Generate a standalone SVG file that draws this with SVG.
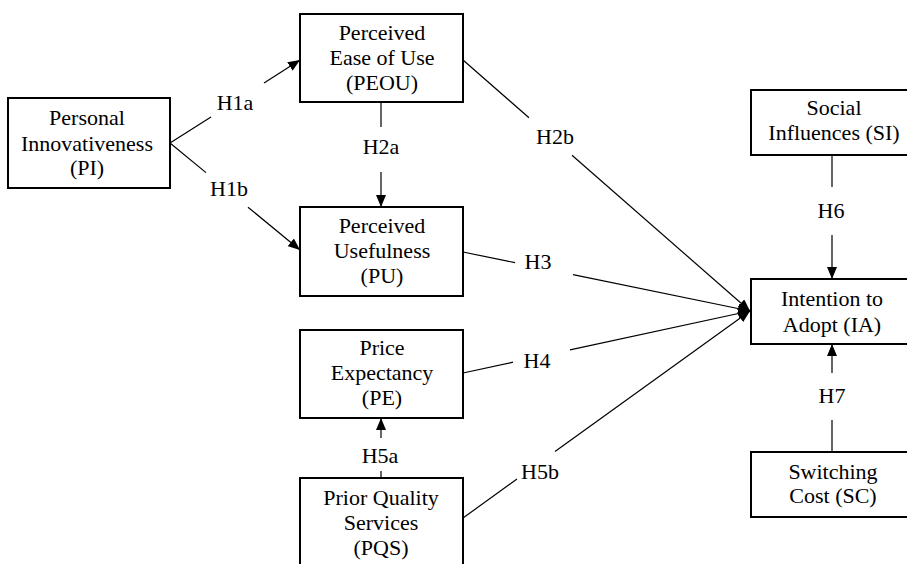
<svg xmlns="http://www.w3.org/2000/svg" width="907" height="564" viewBox="0 0 907 564">
<style>
.box{fill:#fff;stroke:#000;stroke-width:2}
text{font-size:22px;fill:#000;text-anchor:middle}
.con{fill:none;stroke:#000;stroke-width:1.2}
</style>
<defs>
<marker id="arr" viewBox="0 0 12 10" refX="12" refY="5" markerWidth="12" markerHeight="10" markerUnits="userSpaceOnUse" orient="auto"><path d="M0,0 L12,5 L0,10 z" fill="#000"/></marker>
</defs>
<rect width="907" height="564" fill="#fff"/>
<g font-family="'Liberation Serif', 'DejaVu Serif', 'Times New Roman', serif">
<g id="connectors">
<path class="con" d="M170,143 L211,117 M264,83 L300,60" marker-end="url(#arr)"/>
<path class="con" d="M170,143 L206,172.6 M248,207.2 L300,250" marker-end="url(#arr)"/>
<path class="con" d="M381,102 L381,127 M381,172 L381,207" marker-end="url(#arr)"/>
<path class="con" d="M463,60 L529,117.7 M572,155.3 L750,311" marker-end="url(#arr)"/>
<path class="con" d="M463,252 L515,262.7 M573,274.6 L750,311" marker-end="url(#arr)"/>
<path class="con" d="M463,373 L513,362.2 M570,349.9 L750,311" marker-end="url(#arr)"/>
<path class="con" d="M463,518 L517,479 M555,451.6 L750,311" marker-end="url(#arr)"/>
<path class="con" d="M381,478 L381,471 M381,438 L381,418" marker-end="url(#arr)"/>
<path class="con" d="M832,155 L832,187 M832,235 L832,279" marker-end="url(#arr)"/>
<path class="con" d="M832,452 L832,420 M832,373 L832,344" marker-end="url(#arr)"/>
<text x="235" y="110">H1a</text>
<text x="229" y="196">H1b</text>
<text x="381" y="154">H2a</text>
<text x="555" y="144">H2b</text>
<text x="538" y="269">H3</text>
<text x="537" y="368">H4</text>
<text x="380" y="463">H5a</text>
<text x="540" y="479">H5b</text>
<text x="831" y="218">H6</text>
<text x="832" y="403">H7</text>
</g>
<g id="PI">
<rect class="box" x="8" y="98" width="162" height="90"/>
<text x="87" y="125">Personal</text>
<text x="87" y="151">Innovativeness</text>
<text x="87" y="175">(PI)</text>
</g>
<g id="PEOU">
<rect class="box" x="300" y="14" width="163" height="88"/>
<text x="382" y="40">Perceived</text>
<text x="382" y="65">Ease of Use</text>
<text x="382" y="90">(PEOU)</text>
</g>
<g id="PU">
<rect class="box" x="300" y="207" width="163" height="89"/>
<text x="382" y="233">Perceived</text>
<text x="382" y="258">Usefulness</text>
<text x="382" y="283">(PU)</text>
</g>
<g id="PE">
<rect class="box" x="300" y="330" width="163" height="88"/>
<text x="382" y="355">Price</text>
<text x="382" y="380">Expectancy</text>
<text x="382" y="405">(PE)</text>
</g>
<g id="PQS">
<rect class="box" x="300" y="478" width="163" height="100"/>
<text x="381" y="505">Prior Quality</text>
<text x="381" y="530">Services</text>
<text x="381" y="555">(PQS)</text>
</g>
<g id="SI">
<rect class="box" x="751" y="90" width="170" height="65"/>
<text x="834" y="115">Social</text>
<text x="834" y="140">Influences (SI)</text>
</g>
<g id="IA">
<rect class="box" x="751" y="279" width="170" height="65"/>
<text x="832" y="306">Intention to</text>
<text x="832" y="332">Adopt (IA)</text>
</g>
<g id="SC">
<rect class="box" x="751" y="452" width="170" height="65"/>
<text x="833" y="479">Switching</text>
<text x="833" y="503">Cost (SC)</text>
</g>
</g>
</svg>
